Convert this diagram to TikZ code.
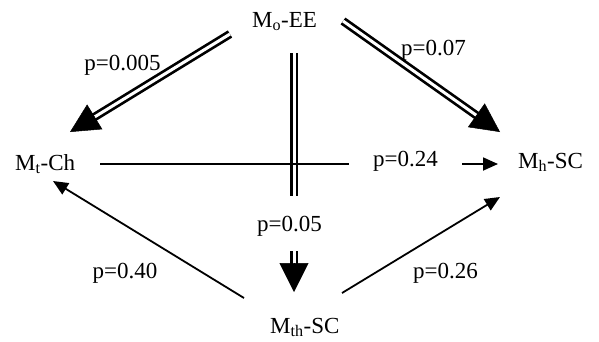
\documentclass[tikz,border=0pt]{standalone}
\usepackage{fontspec}
\setmainfont{Liberation Serif}
\usetikzlibrary{arrows.meta,calc}
\begin{document}
\begin{tikzpicture}[x=1pt,y=-1pt,
  state/.style={anchor=base west,inner sep=0pt,font=\fontsize{23}{27}\selectfont},
  prob/.style={anchor=base,inner sep=0pt,font=\fontsize{23}{27}\selectfont},
  dbl/.style={draw=black,double=white,line width=2.7pt,double distance=3pt,shorten >=26pt},
  bigtip/.style={line width=0.5pt,-{Triangle[length=29pt,width=29pt]}},
  thin/.style={line width=1.8pt,-{Triangle[length=15pt,width=13pt]}}]
\useasboundingbox (0,0) rectangle (599,341);
% states
\node[state] (mo)  at (252,27)  {M\textsubscript{o}-EE};
\node[state] (mt)  at (15,170)  {M\textsubscript{t}-Ch};
\node[state] (mh)  at (518,168) {M\textsubscript{h}-SC};
\node[state] (mth) at (270,333) {M\textsubscript{th}-SC};
% connector end points, tied to the nodes
\coordinate (moL) at ([shift={(-22,7)}]mo.base west);
\coordinate (moR) at ([shift={(91,-6)}]mo.base west);
\coordinate (moV) at ([shift={(42,26)}]mo.base west);
\coordinate (mtD) at ([shift={(55,-38)}]mt.base west);
\coordinate (mhD) at ([shift={(-18,-36)}]mh.base west);
\coordinate (mthV) at ([shift={(24,-41)}]mth.base west);
% double arrows
\draw[dbl] (moL) -- (mtD);
\draw[bigtip] ($(mtD)!29pt!(moL)$) -- (mtD);
\draw[dbl] (moR) -- (mhD);
\draw[bigtip] ($(mhD)!29pt!(moR)$) -- (mhD);
\draw[dbl] (moV) -- (mthV);
\draw[bigtip] ($(mthV)!29pt!(moV)$) -- (mthV);
% single arrows
\draw[thin] ([shift={(85,-6)}]mt.base west) -- ([shift={(-20,-4)}]mh.base west);
\draw[thin] ([shift={(-26,-35)}]mth.base west) -- ([shift={(38,11)}]mt.base west);
\draw[thin] ([shift={(72,-40)}]mth.base west) -- ([shift={(-18,29)}]mh.base west);
% labels
\node[prob] (p005) at (122.5,70) {p=0.005};
\node[prob] (p007) at (433.5,55) {p=0.07};
\node[prob,fill=white,inner xsep=24pt,inner ysep=2pt] (p024) at (405.5,166) {p=0.24};
\node[prob,fill=white,inner xsep=2pt,inner ysep=20pt,text depth=0pt] (p05) at (289.5,231) {p=0.05};
\node[prob] (p040) at (125,278) {p=0.40};
\node[prob] (p026) at (445.5,278) {p=0.26};
\end{tikzpicture}
\end{document}
